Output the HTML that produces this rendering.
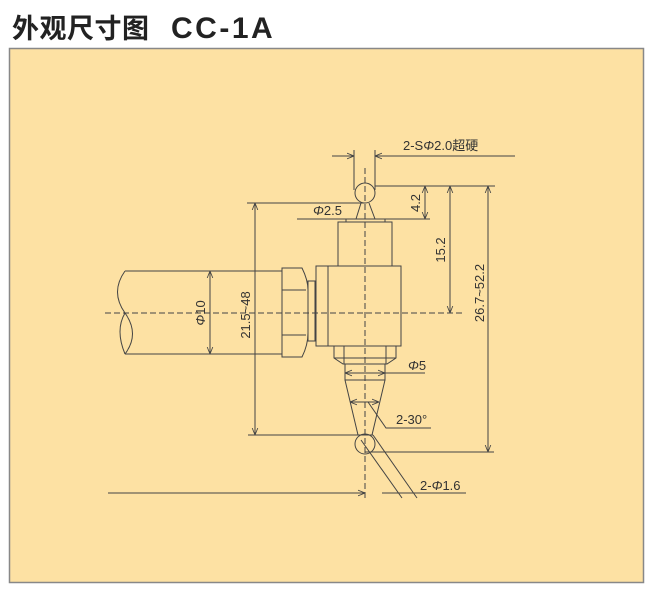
<!DOCTYPE html>
<html><head><meta charset="utf-8"><style>
html,body{margin:0;padding:0;background:#fff;}
body{width:652px;height:591px;position:relative;overflow:hidden;}
.t{position:absolute;top:7px;font:bold 27px "Liberation Sans","Noto Sans CJK SC",sans-serif;color:#222;}
svg{position:absolute;left:0;top:0;}
text{font-family:"Liberation Sans","Noto Sans CJK SC",sans-serif;font-size:13px;fill:#333;}
</style></head><body>
<div class="t" style="left:12px;letter-spacing:0.5px">外观尺寸图</div>
<div class="t" style="left:171px;font-size:30px;letter-spacing:2.5px;top:9px;line-height:40px">CC-1A</div>
<svg width="652" height="591" viewBox="0 0 652 591">
<defs>
<marker id="a" viewBox="0 0 10 10" refX="10" refY="5" markerWidth="7" markerHeight="7" orient="auto-start-reverse"><path d="M0,1 L10,5 L0,9" fill="none" stroke="#444" stroke-width="1.2"/></marker>
</defs>
<rect x="9.5" y="48.5" width="634" height="534" fill="#fde1a3" stroke="#888" stroke-width="1.5"/>
<g stroke="#444" stroke-width="1" fill="none">
<line x1="365" y1="168" x2="365" y2="500" stroke-dasharray="6,3"/>
<line x1="105" y1="313" x2="462" y2="313" stroke-dasharray="6,3"/>
<line x1="332" y1="156" x2="354" y2="156" marker-end="url(#a)"/>
<line x1="515" y1="156" x2="375" y2="156" marker-end="url(#a)"/>
<line x1="354" y1="150" x2="354" y2="190"/>
<line x1="375" y1="150" x2="375" y2="190"/>
<circle cx="365" cy="193" r="10"/>
<path d="M361,203 L356,219 L375,219 L369,203"/>
<line x1="297" y1="219" x2="395" y2="219"/>
<rect x="346" y="219" width="39" height="3"/>
<rect x="338" y="222" width="54" height="44"/>
<rect x="316" y="266" width="85" height="80"/>
<line x1="328" y1="266" x2="328" y2="346"/>
<rect x="308" y="281" width="7" height="60"/>
<path d="M282,268 L302,268 Q308,280 308,290 L308,333 Q308,345 302,357 L282,357 Z"/>
<line x1="282" y1="290" x2="306" y2="290"/>
<line x1="282" y1="335" x2="306" y2="335"/>
<line x1="125" y1="271" x2="282" y2="271"/>
<line x1="125" y1="354" x2="282" y2="354"/>
<path d="M125,271 Q110,292 125,313 Q140,334 125,354"/>
<path d="M125,313 Q115,330 125,354"/>
<line x1="210" y1="312" x2="210" y2="271" marker-end="url(#a)"/>
<line x1="210" y1="312" x2="210" y2="354" marker-end="url(#a)"/>
<line x1="247" y1="203" x2="365" y2="203"/>
<line x1="255" y1="310" x2="255" y2="203" marker-end="url(#a)"/>
<line x1="255" y1="310" x2="255" y2="435" marker-end="url(#a)"/>
<line x1="248" y1="435" x2="373" y2="435"/>
<line x1="375" y1="186" x2="495" y2="186"/>
<line x1="385" y1="219" x2="430" y2="219"/>
<line x1="425" y1="200" x2="425" y2="186" marker-end="url(#a)"/>
<line x1="425" y1="200" x2="425" y2="219" marker-end="url(#a)"/>
<line x1="450" y1="250" x2="450" y2="186" marker-end="url(#a)"/>
<line x1="450" y1="250" x2="450" y2="313" marker-end="url(#a)"/>
<line x1="488" y1="320" x2="488" y2="186" marker-end="url(#a)"/>
<line x1="488" y1="320" x2="488" y2="452" marker-end="url(#a)"/>
<line x1="365" y1="452" x2="494" y2="452"/>
<path d="M334,346 L334,358 L343,364 L387,364 L396,358 L396,346"/>
<line x1="344" y1="346" x2="344" y2="364"/>
<line x1="386" y1="346" x2="386" y2="364"/>
<line x1="334" y1="358" x2="396" y2="358"/>
<rect x="345" y="364" width="40" height="16"/>
<line x1="365" y1="373" x2="345" y2="373" marker-end="url(#a)"/>
<line x1="365" y1="373" x2="385" y2="373" marker-end="url(#a)"/>
<line x1="385" y1="373" x2="425" y2="373"/>
<path d="M345,380 L358,435 M385,380 L372,435"/>
<line x1="365" y1="402" x2="350" y2="402" marker-end="url(#a)"/>
<line x1="365" y1="402" x2="379" y2="402" marker-end="url(#a)"/>
<path d="M368,402 L386,428 L431,428"/>
<circle cx="365" cy="444" r="10"/>
<line x1="361" y1="440" x2="402" y2="498"/>
<line x1="373" y1="435" x2="417" y2="498"/>
<line x1="382" y1="493" x2="466" y2="493"/>
<line x1="108" y1="493" x2="365" y2="493" marker-end="url(#a)"/>
</g>
<text x="403" y="150">2-S<tspan font-style="italic">Φ</tspan>2.0超硬</text>
<text x="313" y="215"><tspan font-style="italic">Φ</tspan>2.5</text>
<text x="408" y="370"><tspan font-style="italic">Φ</tspan>5</text>
<text x="396" y="424">2-30°</text>
<text x="420" y="490">2-<tspan font-style="italic">Φ</tspan>1.6</text>
<text transform="translate(205,313) rotate(-90)" text-anchor="middle"><tspan font-style="italic">Φ</tspan>10</text>
<text transform="translate(250,315) rotate(-90)" text-anchor="middle">21.5~48</text>
<text transform="translate(420,203) rotate(-90)" text-anchor="middle">4.2</text>
<text transform="translate(445,250) rotate(-90)" text-anchor="middle">15.2</text>
<text transform="translate(484,293) rotate(-90)" text-anchor="middle">26.7~52.2</text>
</svg>
</body></html>
